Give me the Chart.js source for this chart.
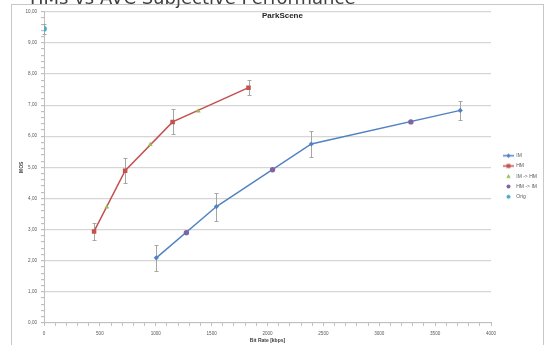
<!DOCTYPE html>
<html>
<head>
<meta charset="utf-8">
<script src="https://cdn.jsdelivr.net/npm/chart.js@4.4.1/dist/chart.umd.min.js"></script>
<style>
  html, body { margin: 0; padding: 0; background: #fff; width: 545px; height: 345px; overflow: hidden; }
  #frame { position: absolute; left: 11px; top: 4px; width: 533px; height: 360px; border: 1px solid #c8c8c8; box-sizing: border-box; }
  #slideTitle { position: absolute; left: 30px; top: -10.9px; font-family: "DejaVu Sans", sans-serif; font-size: 18px; line-height: 18px; color: #404040; white-space: nowrap; z-index: 3; }
  #chartTitle { position: absolute; left: 16px; width: 533px; top: 11px; text-align: center; font-family: "Liberation Sans", sans-serif; font-weight: bold; font-size: 8px; line-height: 9px; color: #262626; z-index: 2; }
  #wrap { position: absolute; left: 12px; top: 5px; width: 533px; height: 340px; }
</style>
</head>
<body>
<div id="frame"></div>
<div id="slideTitle">HMs vs AVC Subjective Performance</div>
<div id="chartTitle">ParkScene</div>
<div id="wrap"><canvas id="c" width="533" height="340"></canvas></div>
<script>
// ParkScene: MOS against bit rate
const seriesNames = ['IM', 'HM', 'IM -> HM', 'HM -> IM', 'Orig'];

const bitrateIM = [1005, 1543, 2392, 3725];
const mosIM     = [2.09, 3.74, 5.75, 6.83];
const ciIM      = [0.41, 0.45, 0.43, 0.30];

const bitrateHM = [448, 726, 1151, 1830];
const mosHM     = [2.94, 4.89, 6.46, 7.56];
const ciHM      = [0.26, 0.40, 0.40, 0.25];

const bitrateIMtoHM = [562, 951, 1381];
const mosIMtoHM     = [3.72, 5.73, 6.81];

const bitrateHMtoIM = [1274, 2045, 3283];
const mosHMtoIM     = [2.90, 4.92, 6.46];

const bitrateOrig = [0];
const mosOrig     = [9.45];
const ciOrig      = [0.15];

const xTickValues = [0, 500, 1000, 1500, 2000, 2500, 3000, 3500, 4000];
const yTickValues = [0, 1, 2, 3, 4, 5, 6, 7, 8, 9, 10];

const colors = {
  IM: '#5283c0',
  HM: '#c4514e',
  IMtoHM: '#9bbb59',
  HMtoIM: '#8064a2',
  Orig: '#4bacc6'
};

const pts = (xs, ys) => xs.map((x, i) => ({ x: x, y: ys[i] }));
const FONT = '"Liberation Sans", sans-serif';
const isOn = (v, list) => list.some(t => Math.abs(t - v) < 1e-6);

// small legend icons: a line segment with a marker, or a marker alone
function makeIcon(color, withLine, shape) {
  const c = document.createElement('canvas');
  c.width = 18; c.height = 7;
  const g = c.getContext('2d');
  const cx = 12.5, cy = 3.5;
  if (withLine) {
    g.strokeStyle = color; g.lineWidth = 1.5;
    g.beginPath(); g.moveTo(7, cy); g.lineTo(18, cy); g.stroke();
  }
  g.fillStyle = color;
  g.beginPath();
  if (shape === 'rect') { g.rect(cx - 2, cy - 2, 4, 4); }
  else if (shape === 'diamond') { g.moveTo(cx, cy - 2.3); g.lineTo(cx + 2.3, cy); g.lineTo(cx, cy + 2.3); g.lineTo(cx - 2.3, cy); g.closePath(); }
  else if (shape === 'triangle') { g.moveTo(cx, cy - 2.2); g.lineTo(cx + 2.2, cy + 1.8); g.lineTo(cx - 2.2, cy + 1.8); g.closePath(); }
  else { g.arc(cx, cy, 2, 0, Math.PI * 2); }
  g.fill();
  return c;
}
const legendIcons = [
  makeIcon(colors.IM, true, 'diamond'),
  makeIcon(colors.HM, true, 'rect'),
  makeIcon(colors.IMtoHM, false, 'triangle'),
  makeIcon(colors.HMtoIM, false, 'circle'),
  makeIcon(colors.Orig, false, 'circle')
];

// vertical confidence bars with short caps
const errorBars = {
  id: 'errorBars',
  beforeDatasetsDraw(chart) {
    const { ctx, scales: { x, y } } = chart;
    ctx.save();
    ctx.strokeStyle = '#a6a6a6';
    ctx.lineWidth = 1;
    chart.data.datasets.forEach((ds, i) => {
      if (!ds.errors || !chart.isDatasetVisible(i)) return;
      ds.data.forEach((p, j) => {
        const e = ds.errors[j];
        const px = Math.round(x.getPixelForValue(p.x)) + 0.5;
        const top = Math.round(y.getPixelForValue(p.y + e)) + 0.5;
        const bot = Math.round(y.getPixelForValue(p.y - e)) + 0.5;
        ctx.beginPath();
        ctx.moveTo(px, top); ctx.lineTo(px, bot);
        ctx.moveTo(px - 2, top); ctx.lineTo(px + 2, top);
        ctx.moveTo(px - 2, bot); ctx.lineTo(px + 2, bot);
        ctx.stroke();
      });
    });
    ctx.restore();
  }
};

new Chart(document.getElementById('c'), {
  type: 'line',
  data: {
    datasets: [
      { label: seriesNames[0], data: pts(bitrateIM, mosIM), errors: ciIM, order: 2,
        borderColor: colors.IM, backgroundColor: colors.IM, borderWidth: 1.5,
        pointStyle: 'rectRot', pointRadius: 2.6, pointBorderWidth: 0, tension: 0 },
      { label: seriesNames[1], data: pts(bitrateHM, mosHM), errors: ciHM, order: 2,
        borderColor: colors.HM, backgroundColor: colors.HM, borderWidth: 1.5,
        pointStyle: 'rect', pointRadius: 3.2, pointBorderWidth: 0, tension: 0 },
      { label: seriesNames[2], data: pts(bitrateIMtoHM, mosIMtoHM), order: 1, showLine: false,
        borderColor: colors.IMtoHM, backgroundColor: colors.IMtoHM,
        pointStyle: 'triangle', pointRadius: 2.8, pointBorderWidth: 0 },
      { label: seriesNames[3], data: pts(bitrateHMtoIM, mosHMtoIM), order: 1, showLine: false,
        borderColor: colors.HMtoIM, backgroundColor: colors.HMtoIM,
        pointStyle: 'circle', pointRadius: 2.7, pointBorderWidth: 0 },
      { label: seriesNames[4], data: pts(bitrateOrig, mosOrig), errors: ciOrig, order: 1, showLine: false,
        borderColor: colors.Orig, backgroundColor: colors.Orig,
        pointStyle: 'circle', pointRadius: 2.9, pointBorderWidth: 0 }
    ]
  },
  options: {
    responsive: false,
    animation: false,
    layout: { padding: { top: 5.5, left: 0, right: 0, bottom: 0 } },
    plugins: {
      title: { display: false },
      tooltip: { enabled: false },
      legend: {
        position: 'right',
        align: 'start',
        fullSize: true,
        maxWidth: 54,
        title: { display: true, text: ' ', padding: { top: 136.45, bottom: 0 }, font: { size: 1, lineHeight: 1 } },
        labels: {
          usePointStyle: true,
          pointStyleWidth: 17.5,
          boxHeight: 5,
          padding: 5.25,
          color: '#595959',
          font: { family: FONT, size: 5 },
          generateLabels(chart) {
            return chart.data.datasets.map((ds, i) => ({
              text: ds.label, pointStyle: legendIcons[i], fillStyle: ds.backgroundColor,
              strokeStyle: ds.borderColor, lineWidth: 0, hidden: false, datasetIndex: i, fontColor: '#595959'
            }));
          }
        }
      }
    },
    scales: {
      x: {
        type: 'linear',
        min: 0, max: 4000,
        afterFit(s) { s.height = 22.1; },
        border: { color: '#bfbfbf', width: 1 },
        grid: { drawOnChartArea: false, drawTicks: true, tickLength: 3, tickColor: '#bfbfbf' },
        ticks: {
          stepSize: 100, autoSkip: false, maxRotation: 0, padding: 5.3,
          color: '#595959', font: { family: FONT, size: 4.6 },
          callback: (v) => isOn(v, xTickValues) ? String(Math.round(v)) : ''
        },
        title: { display: true, text: 'Bit Rate [kbps]', color: '#404040',
          font: { family: FONT, size: 5, weight: 'bold' }, padding: { top: 0, bottom: 1 } }
      },
      y: {
        type: 'linear',
        min: 0, max: 10,
        afterFit(s) { s.width = 32; },
        border: { color: '#bfbfbf', width: 1 },
        grid: {
          lineWidth: 1.2, tickLength: 3,
          color: (c) => (c.tick && isOn(c.tick.value, yTickValues)) ? '#d6d6d6' : 'rgba(0,0,0,0)',
          tickColor: '#bfbfbf'
        },
        ticks: {
          stepSize: 0.2, autoSkip: false, padding: 4,
          color: '#595959', font: { family: FONT, size: 4.6 },
          callback: (v) => isOn(v, yTickValues) ? Math.round(v).toFixed(2).replace('.', ',') : ''
        },
        title: { display: true, text: 'MOS', color: '#404040',
          font: { family: FONT, size: 5, weight: 'bold' }, padding: { top: 7, bottom: 0 } }
      }
    }
  },
  plugins: [errorBars]
});
</script>
</body>
</html>
